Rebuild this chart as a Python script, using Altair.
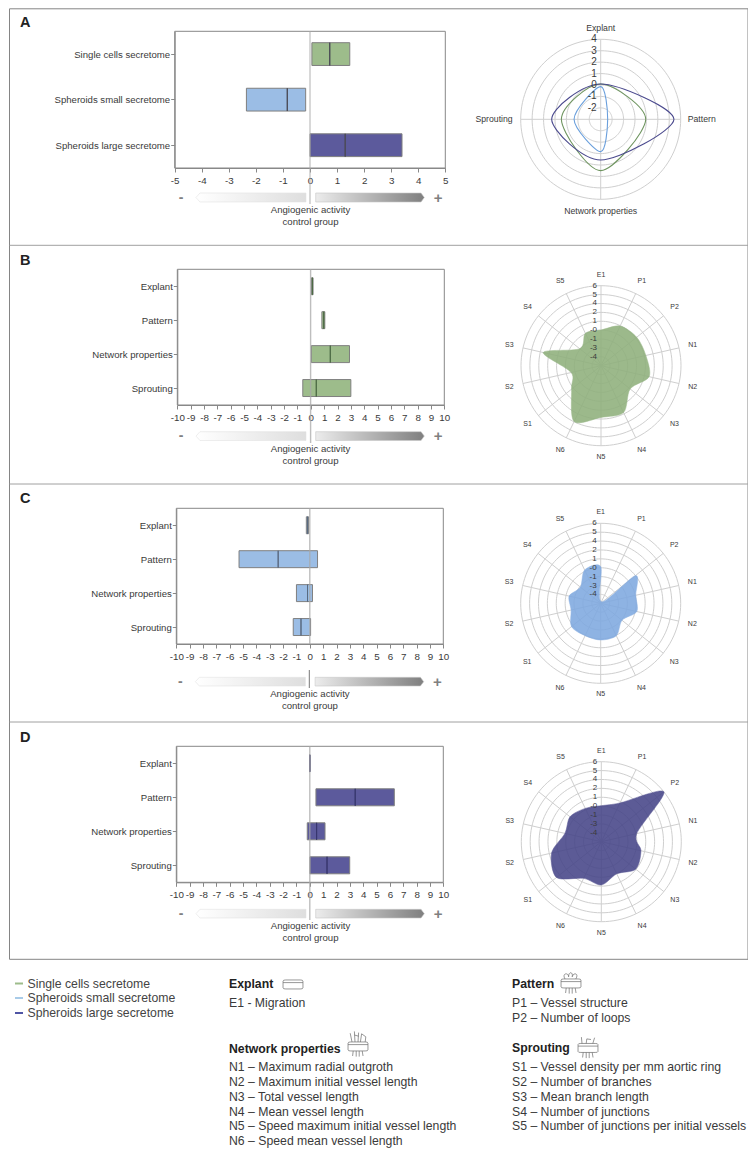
import math
import altair as alt
import pandas as pd

W, H = 740, 1140
FONT = "Liberation Sans"
GREEN, BLUE, PURPLE = "#9dbc8b", "#9bbde5", "#5c5a9c"
GREEN_F, BLUE_F, PURPLE_F = "#8fb07c", "#7fa9e0", "#464588"
TXT = "#3a3a3a"

# ---------- data ----------
groups_a = ["Single cells secretome", "Spheroids small secretome", "Spheroids large secretome"]
low_a = [0.07, -2.35, 0.0]
med_a = [0.73, -0.84, 1.3]
high_a = [1.47, -0.16, 3.4]
colors_a = [GREEN, BLUE, PURPLE]

domains = ["Explant", "Pattern", "Network properties", "Sprouting"]
low_b = [0.05, 0.83, 0.04, -0.6]
med_b = [0.12, 0.97, 1.46, 0.41]
high_b = [0.17, 1.05, 2.9, 3.0]
low_c = [-0.26, -5.3, -1.0, -1.24]
med_c = [-0.17, -2.37, -0.17, -0.66]
high_c = [-0.09, 0.58, 0.2, 0.06]
low_d = [-0.02, 0.46, -0.19, 0.01]
med_d = [0.0, 3.4, 0.51, 1.29]
high_d = [0.02, 6.33, 1.14, 2.99]

radar_a_axes = ["Explant", "Pattern", "Network properties", "Sprouting"]
radar_a_green = [0.09, 0.94, 1.49, 0.44]
radar_a_blue = [-0.14, -2.39, -0.17, -0.67]
radar_a_purple = [0.09, 3.41, 0.56, 1.29]
radar_a_rings = [-2, -1, 0, 1, 2, 3, 4]
radar_a_labels = ["-2", "-1", "0", "1", "2", "3", "4"]

radar_axes = ["E1", "P1", "P2", "N1", "N2", "N3", "N4", "N5", "N6", "S1", "S2", "S3", "S4", "S5"]
radar_rings = [-4, -2.75, -1.5, -0.25, 1, 2.25, 3.5, 4.75, 6]
radar_labels = ["-4", "-3", "-1", "-0", "1", "2", "4", "5", "6"]
radar_b = [-0.23, 0.94, 1.17, 1.22, 1.69, 0.0, 2.06, 2.02, 3.47, 0.05, -0.94, 3.08, -1.41, -0.19]
radar_c = [-0.09, -5.02, 0.99, -0.19, -0.05, -1.41, -0.19, -0.09, -0.19, 0.0, -0.98, -0.7, -1.59, -0.05]
radar_d = [-0.19, 0.8, 6.0, -0.14, 0.47, 0.94, -0.23, 0.84, 0.47, 2.81, 1.92, 0.0, 0.38, -0.05]

legend_names = groups_a
legend_colors = [GREEN, "#a8cbe8", "#4f55a5"]

layers = []


def px(v):
    return v - 8


def one():
    return alt.Chart(alt.Data(values=[{}]))


def text(x, y, s, size=10, align="left", color=TXT, weight="normal"):
    layers.append(one().mark_text(font=FONT, fontSize=size, align=align, baseline="middle",
                                  color=color, fontWeight=weight)
                  .encode(x=alt.value(px(x)), y=alt.value(px(y)), text=alt.value(s)))


def hline(x1, x2, y1, y2, color, width, opacity=1.0):
    layers.append(one().mark_rule(color=color, strokeWidth=width, opacity=opacity)
                  .encode(x=alt.value(px(x1)), x2=alt.value(px(x2)), y=alt.value(px(y1)), y2=alt.value(px(y2))))


def box(x1, x2, y1, y2, stroke, width=1):
    layers.append(one().mark_rect(fill=None, stroke=stroke, strokeWidth=width)
                  .encode(x=alt.value(px(x1)), x2=alt.value(px(x2)), y=alt.value(px(y1)), y2=alt.value(px(y2))))


def bars(cats, low, med, high, colors, med_color, limit, ticks, left, right, top, bottom):
    df = pd.DataFrame({"cat": cats, "low": low, "med": med, "high": high, "col": colors})
    sx = alt.Scale(domain=[-limit, limit], range=[px(left), px(right)], nice=False, zero=False)
    sy = alt.Scale(domain=cats, range=[px(top), px(bottom)], paddingInner=0.5, paddingOuter=0.25)
    base = alt.Chart(df)
    layers.append(
        base.mark_bar(stroke="#7f7f7f", strokeWidth=1).encode(
            x=alt.X("low:Q", scale=sx, title=None, axis=alt.Axis(
                orient="bottom", offset=-(H - px(bottom)), values=ticks, grid=False,
                labelExpr="'' + datum.value",
                domainColor="#888888", tickColor="#888888", tickSize=4, labelFontSize=9.8, labelFont=FONT,
                labelColor=TXT, labelPadding=3, labelOverlap=False, labelFlush=False, labelAngle=0)),
            x2="high:Q",
            y=alt.Y("cat:N", scale=sy, title=None, sort=None, axis=alt.Axis(
                orient="left", offset=-px(left), grid=False,
                domainColor="#888888", tickColor="#888888", tickSize=4, labelFontSize=9.6, labelFont=FONT,
                labelColor=TXT, labelPadding=1, labelLimit=200, labelOffset=0.5)),
            color=alt.Color("col:N", scale=None),
        ))
    layers.append(
        base.mark_bar(stroke=med_color, strokeWidth=1).encode(
            x=alt.X("med:Q", scale=sx, axis=None),
            x2="med:Q",
            y=alt.Y("cat:N", scale=sy, axis=None, sort=None),
        ))
    box(left, right, top, bottom, "#888888")


def arrows(y1, y2, xshift=0):
    left_x, left_y = [0, 0.036, 1, 1, 0.036], [0.5, 1, 1, 0, 0]
    right_x, right_y = [0, 0.97, 1, 0.97, 0], [0, 0, 0.5, 1, 1]

    def shape(xs, ys, x_range, stops, stroke):
        df = pd.DataFrame({"x": xs, "y": ys, "i": range(len(xs))})
        grad = {"gradient": "linear", "x1": 0, "x2": 1, "y1": 0, "y2": 0,
                "stops": [{"offset": o, "color": c} for o, c in stops]}
        return alt.Chart(df).mark_line(interpolate="linear-closed", fill=grad, stroke=stroke, strokeWidth=0.6).encode(
            x=alt.X("x:Q", axis=None, scale=alt.Scale(domain=[0, 1], range=[px(x_range[0]), px(x_range[1])], nice=False, zero=False)),
            y=alt.Y("y:Q", axis=None, scale=alt.Scale(domain=[0, 1], range=[px(y2), px(y1)], nice=False, zero=False)),
            order=alt.Order("i:Q"))
    layers.append(shape(left_x, left_y, [196 + xshift, 306 + xshift], [(0, "#ffffff"), (1, "#dedede")], "#e2e2e2"))
    layers.append(shape(right_x, right_y, [315.7 + xshift, 424.3 + xshift], [(0, "#ececec"), (1, "#7f7f7f")], "#c8c8c8"))
    ym = (y1 + y2) / 2
    text(181 + xshift, ym, "-", 14, "center", "#808080", "bold")
    text(438 + xshift, ym, "+", 15, "center", "#808080", "bold")
    text(310.5 + xshift, y2 + 8.4, "Angiogenic activity", 9.6, "center")
    text(310.5 + xshift, y2 + 20, "control group", 9.6, "center")


def radar_scales(cx, cy, span):
    return (alt.Scale(domain=[-span, span], range=[px(cx - 80), px(cx + 80)], nice=False, zero=False),
            alt.Scale(domain=[-span, span], range=[px(cy + 80), px(cy - 80)], nice=False, zero=False))


def radar_grid(axes, rings, center, cx, cy):
    span = rings[-1] - center
    sx, sy = radar_scales(cx, cy, span)
    n = len(axes)
    rows = []
    for k, v in enumerate(rings):
        for deg in range(0, 361, 3):
            a = math.radians(deg)
            rows.append({"g": f"r{k}", "i": deg, "x": (v - center) * math.sin(a), "y": (v - center) * math.cos(a)})
    for k in range(n):
        a = 2 * math.pi * k / n
        rows.append({"g": f"s{k}", "i": 0, "x": 0.0, "y": 0.0})
        rows.append({"g": f"s{k}", "i": 1, "x": span * math.sin(a), "y": span * math.cos(a)})
    layers.append(alt.Chart(pd.DataFrame(rows)).mark_line(stroke="#cfcfcf", strokeWidth=1).encode(
        x=alt.X("x:Q", scale=sx, axis=None), y=alt.Y("y:Q", scale=sy, axis=None),
        detail="g:N", order=alt.Order("i:Q")))
    return sx, sy, span


def radar_series(values, center, sx, sy, n_color, fill, width=1, tension=0.35, opacity=1.0):
    n = len(values)
    df = pd.DataFrame({
        "i": range(n),
        "x": [(v - center) * math.sin(2 * math.pi * k / n) for k, v in enumerate(values)],
        "y": [(v - center) * math.cos(2 * math.pi * k / n) for k, v in enumerate(values)],
    })
    kw = {"fill": fill} if fill else {}
    layers.append(alt.Chart(df).mark_line(interpolate="cardinal-closed", tension=tension, stroke=n_color,
                                          strokeWidth=width, opacity=opacity, **kw).encode(
        x=alt.X("x:Q", scale=sx, axis=None), y=alt.Y("y:Q", scale=sy, axis=None), order=alt.Order("i:Q")))


def radar_text(axes, rings, labels, center, sx, sy, span, radii, aligns, label_size, tick_size, tick_dx):
    n = len(axes)
    lab = pd.DataFrame({
        "t": axes,
        "x": [radii[k] / 80 * span * math.sin(2 * math.pi * k / n) for k in range(n)],
        "y": [radii[k] / 80 * span * math.cos(2 * math.pi * k / n) for k in range(n)],
        "a": aligns,
    })
    for al, part in lab.groupby("a"):
        layers.append(alt.Chart(part).mark_text(font=FONT, fontSize=label_size, color=TXT, baseline="middle", align=al).encode(
            x=alt.X("x:Q", scale=sx, axis=None), y=alt.Y("y:Q", scale=sy, axis=None), text="t:N"))
    tk = pd.DataFrame({"t": labels, "x": [0.0] * len(rings), "y": [r - center for r in rings]})
    layers.append(alt.Chart(tk).mark_text(font=FONT, fontSize=tick_size, color=TXT, align="right", baseline="middle", dx=tick_dx).encode(
        x=alt.X("x:Q", scale=sx, axis=None), y=alt.Y("y:Q", scale=sy, axis=None), text="t:N"))


# ---------- frame ----------
box(9.5, 748, 8.8, 959.3, "#858585")
for yy in (245.3, 484, 722):
    hline(9.5, 748, yy, yy, "#a0a0a0", 1)

# ---------- panel letters ----------
for letter, yy in zip("ABCD", (22.7, 260.7, 499, 737.7)):
    text(20, yy, letter, 14.5, "left", "#222222", "bold")

# ---------- bar panels ----------
ticks5 = list(range(-5, 6))
ticks10 = list(range(-10, 11))
bars(groups_a, low_a, med_a, high_a, colors_a, "#4a4a55", 5, ticks5, 174.7, 445.3, 31.3, 168)
bars(domains, low_b, med_b, high_b, [GREEN] * 4, "#4d6b45", 10, ticks10, 177.3, 444.3, 269.3, 405)
bars(domains, low_c, med_c, high_c, [BLUE] * 4, "#5a6a80", 10, ticks10, 176.3, 443.3, 508.3, 644)
bars(domains, low_d, med_d, high_d, [PURPLE] * 4, "#38376e", 10, ticks10, 176.3, 443.3, 746.3, 882.3)

hline(310, 310, 31.3, 204, "#a8a8a8", 1.2, 0.75)
hline(310.6, 310.6, 269.3, 443, "#a8a8a8", 1.4, 0.75)
hline(309.8, 309.8, 508.3, 644, "#a8a8a8", 1.4, 0.75)
hline(309.3, 309.3, 670, 688, "#777777", 1)
hline(309.8, 309.8, 746.3, 920, "#a8a8a8", 1.4, 0.75)

arrows(193, 202)
arrows(431.7, 440.5)
arrows(677.3, 686, -0.6)
arrows(909.3, 918)

# ---------- radars ----------
sx, sy, span = radar_grid(radar_a_axes, radar_a_rings, -3, 600.7, 119.3)
radar_series(radar_a_green, -3, sx, sy, "#6f9560", None, 1.1, 0.12)
radar_series(radar_a_blue, -3, sx, sy, "#6a9fdc", None, 1.1, 0.12)
radar_series(radar_a_purple, -3, sx, sy, "#4b4a8e", None, 1.1, 0.12)
radar_text(radar_a_axes, radar_a_rings, radar_a_labels, -3, sx, sy, span, [91.5, 87, 91.5, 88],
           ["center", "left", "center", "right"], 8.7, 10, -4)

radar_radii = [91 if k in (0, 7) else 94 for k in range(14)]
for vals, fc, cx, cy in ((radar_b, GREEN_F, 601, 365.7), (radar_c, BLUE_F, 600.7, 603.3), (radar_d, PURPLE_F, 601.3, 841.7)):
    sx, sy, span = radar_grid(radar_axes, radar_rings, -5.25, cx, cy)
    radar_series(vals, -5.25, sx, sy, fc, fc, 0.5, 0.12, 0.88)
    radar_text(radar_axes, radar_rings, radar_labels, -5.25, sx, sy, span, radar_radii,
               ["center"] * 14, 7, 8, -4)

# ---------- legend ----------
LS = 12.25
for name, col, yy in zip(legend_names, legend_colors, (983.5, 998, 1013)):
    hline(15, 23, yy, yy, col, 2)
    text(27.5, yy, name, LS, "left", "#444444")

text(229, 984, "Explant", LS, "left", "#222222", "bold")
text(229, 1003, "E1 - Migration", LS)
text(512, 983.5, "Pattern", LS, "left", "#222222", "bold")
text(512, 1003, "P1 – Vessel structure", LS)
text(512, 1018, "P2 – Number of loops", LS)
text(229, 1049, "Network properties", LS, "left", "#222222", "bold")
net_items = ["N1 – Maximum radial outgroth", "N2 – Maximum initial vessel length", "N3 – Total vessel length",
             "N4 – Mean vessel length", "N5 – Speed maximum initial vessel length", "N6 – Speed mean vessel length"]
for s, yy in zip(net_items, (1067, 1082, 1097, 1112, 1126, 1141)):
    text(229, yy, s, LS)
text(512, 1048, "Sprouting", LS, "left", "#222222", "bold")
spr_items = ["S1 – Vessel density per mm aortic ring", "S2 – Number of branches", "S3 – Mean branch length",
             "S4 – Number of junctions", "S5 – Number of junctions per initial vessels"]
for s, yy in zip(spr_items, (1067, 1082, 1097, 1112, 1126)):
    text(512, yy, s, LS)

# ---------- small icons (custom symbol paths, units of half the symbol size) ----------
BODY = "M-0.83 -0.33 Q-0.83 -0.42 -0.6 -0.42 L0.6 -0.42 Q0.83 -0.42 0.83 -0.33 L0.83 0.25 Q0.83 0.33 0.6 0.33 L-0.6 0.33 Q-0.83 0.33 -0.83 0.25 Z M-0.83 -0.2 L0.83 -0.2 "
LEGS = "M-0.4 0.33 L-0.45 0.75 M-0.15 0.33 L-0.15 0.8 M0.1 0.33 L0.1 0.8 M0.35 0.33 L0.42 0.75 "
LOOPS = "M-0.5 -0.42 C-0.8 -0.9 -0.2 -1 -0.2 -0.6 C-0.2 -1.1 0.2 -1 0.1 -0.6 C0.2 -1 0.7 -0.9 0.4 -0.42 "
SPROUT = "M-0.5 -0.42 L-0.55 -0.95 M-0.15 -0.42 L-0.1 -0.8 M-0.1 -0.8 L0.25 -0.75 M0.4 -0.42 L0.55 -0.9 "
NET = "M-0.5 -0.42 L-0.65 -1.15 M-0.25 -0.42 L-0.3 -1.3 M0 -0.42 L0.05 -1.2 M0.2 -0.42 L0.3 -1.1 L0.65 -0.85 L0.6 -0.42 M-0.3 -1.0 L0.05 -0.9 "

for path, x, y in ((BODY, 293, 985), (BODY + LOOPS + LEGS, 571, 984), (BODY + NET + LEGS, 358, 1047), (BODY + SPROUT + LEGS, 588, 1048.5)):
    layers.append(one().mark_point(shape=path, size=576, filled=False, stroke="#6b6b6b", strokeWidth=0.7, opacity=1).encode(
        x=alt.value(px(x)), y=alt.value(px(y))))

chart = alt.layer(*layers).resolve_scale(x="independent", y="independent", color="independent").resolve_axis(
    x="independent", y="independent").properties(
    width=W, height=H, padding=0, background="white",
    autosize=alt.AutoSizeParams(type="none", contains="padding"),
).configure_view(stroke=None)

chart.save("out.html", embed_options={"renderer": "svg", "actions": False})
